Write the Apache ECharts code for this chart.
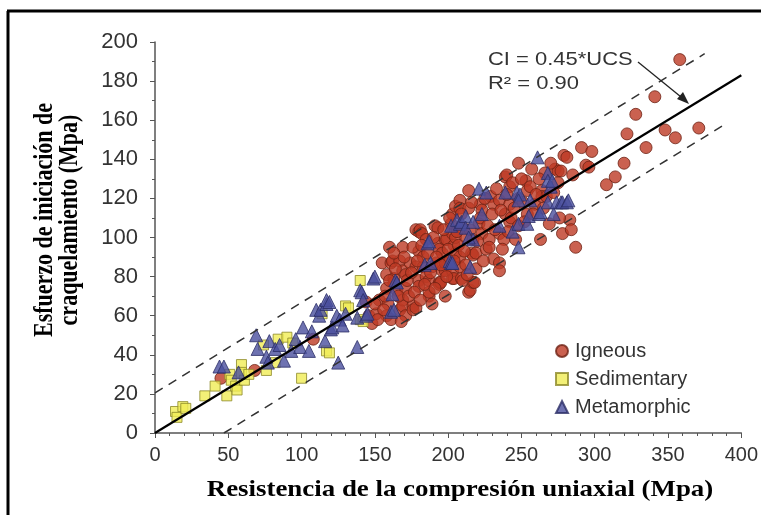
<!DOCTYPE html>
<html>
<head>
<meta charset="utf-8">
<script src="https://cdn.jsdelivr.net/npm/echarts@6/dist/echarts.min.js"></script>
<style>html,body{margin:0;padding:0;background:#fff;}#c{width:761px;height:515px;}</style>
</head>
<body>
<div id="c"></div>
<script>
var xTicks = [0, 50, 100, 150, 200, 250, 300, 350, 400];
var yTicks = [0, 20, 40, 60, 80, 100, 120, 140, 160, 180, 200];

var igneous = [[45,28],[68,32],[108,48],
[144,67],[146,60],[148,56],[151,61],[153,68],[155,87],[158,81],[158,74],[158,60],[159,66],[160,95],[161,58],[161,87],[162,88],[163,79],[163,77],[165,73],[167,88],[167,63],[169,95],[169,83],[169,68],[169,65],[171,81],[171,74],[171,60],[174,87],[176,65],[176,63],[178,104],[178,85],[178,64],[180,103],[180,93],[180,78],[180,75],[181,104],[182,102],[183,85],[183,90],[185,80],[185,99],[187,70],[187,78],[187,72],[189,85],[191,106],[192,87],[193,105],[193,97],[194,77],[194,94],[194,76],[195,77],[196,92],[196,83],[198,99],[198,83],[198,70],[198,87],[199,99],[201,88],[202,107],[203,102],[203,79],[203,83],[203,112],[204,96],[204,79],[205,116],[205,100],[205,92],[208,85],[208,119],[208,115],[208,90],[209,79],[210,78],[210,105],[212,100],[212,86],[214,124],[214,115],[214,72],[215,73],[216,92],[217,99],[217,91],[217,77],[218,77],[219,92],[221,107],[222,117],[223,114],[223,102],[226,94],[228,99],[228,95],[229,121],[231,117],[231,89],[235,119],[235,102],[235,87],[235,83],[238,99],[239,131],[239,112],[240,132],[242,126],[242,117],[242,108],[243,110],[248,138],[248,120],[248,106],[253,129],[254,124],[254,112],[259,117],[263,99],[264,124],[264,121],[266,133],[267,121],[269,107],[272,123],[273,135],[275,134],[277,134],[278,102],[279,142],[281,141],[283,109],[284,104],[285,132],[287,95],[291,146],[294,137],[296,136],[298,144],[308,127],[314,131],[320,138],[322,153],[328,163],[335,146],[341,172],[348,155],[355,151],[358,191],[371,156],
[150,66],[152,58],[156,63],[157,70],[160,78],[163,92],[164,84],[166,70],[168,57],[170,90],[172,78],[173,70],[175,82],[176,95],[177,72],[179,88],[181,68],[182,96],[184,76],[186,92],[188,82],[189,66],[190,100],[191,74],[192,90],[195,86],[197,104],[199,80],[200,94],[201,110],[204,88],[206,103],[207,96],[209,112],[211,93],[213,81],[215,104],[216,118],[219,84],[220,98],[222,110],[224,88],[225,120],[227,106],[230,112],[232,104],[233,125],[236,114],[237,94],[240,122],[241,103],[244,128],[245,115],[246,99],[250,130],[251,118],[252,108],[256,126],[257,135],[258,112],[260,122],[262,130],[265,115],[270,138],[275,128],[276,110]];

var sedimentary = [[14,11],[15,8],[19,13.5],[21,12.6],[34,19],[41,24],[49,19],[51,30],[52,27],[55,24],[56,22],[59,35],[59,31],[61,27],[64,30],[74,45],[76,32],[82,36],[84,48],[90,49],[94,46],[100,28],[114,61],[117,42],[119,41],[130,65],[132,64],[140,78],[140,58],[142,57]];

var metamorphic = [[44,34],[47,34],[57,31],[69,50],[70,43],[76,39],[77,36],[78,47],[82,43],[85,45],[88,37],[93,42],[96,48],[99,44],[101,54],[105,42],[107,52],[110,63],[112,60],[113,63],[116,47],[117,66],[117,68],[119,67],[120,53],[121,54],[124,60],[125,36],[126,58],[128,55],[130,61],[138,44],[138,59],[140,73],[141,72],[142,68],[144,60],[145,61],[149,79],[150,80],[161,62],[162,71],[163,63],[164,78],[165,77],[184,86],[186,97],[187,98],[188,87],[201,88],[202,87],[202,106],[203,87],[206,109],[208,107],[209,108],[212,111],[212,105],[215,85],[217,108],[217,99],[214,100],[221,125],[223,112],[226,123],[235,106],[239,123],[244,103],[247,123],[249,122],[248,119],[248,107],[248,95],[254,107],[255,111],[256,119],[261,141],[262,112],[263,113],[268,133],[268,129],[268,118],[270,126],[271,129],[272,112],[274,118],[277,118],[278,118],[281,118],[282,119]];

var fitLine = [[0,0],[400,183]];
var upperBound = [[0,20.5],[375,194]];
var lowerBound = [[47,0],[388,157.5]];

var chart = echarts.init(document.getElementById('c'), null, {renderer:'canvas'});
var sans = '"Liberation Sans", Arial, sans-serif';
var serif = '"Liberation Serif", "Times New Roman", serif';
chart.setOption({
  animation: false,
  backgroundColor: '#fff',
  grid: {left:155, right:18, top:42, bottom:82},
  xAxis: {
    type:'value', min:0, max:400, interval:50,
    axisLine:{show:true, onZero:false, lineStyle:{color:'#555', width:1.5}},
    axisTick:{show:true, length:5, lineStyle:{color:'#555'}},
    minorTick:{show:true, splitNumber:5, length:3, lineStyle:{color:'#555'}},
    splitLine:{show:false},
    axisLabel:{fontFamily:sans, fontSize:20, color:'#333', margin:12,
      formatter:function(v){return xTicks.indexOf(v)>=0 ? String(v) : '';}}
  },
  yAxis: {
    type:'value', min:0, max:200, interval:20,
    axisLine:{show:true, onZero:false, lineStyle:{color:'#555', width:1.5}},
    axisTick:{show:true, length:5, lineStyle:{color:'#555'}},
    minorTick:{show:true, splitNumber:2, length:3, lineStyle:{color:'#555'}},
    splitLine:{show:false},
    axisLabel:{fontFamily:sans, fontSize:22, color:'#333', margin:17,
      formatter:function(v){return yTicks.indexOf(v)>=0 ? String(v) : '';}}
  },
  legend: {
    orient:'vertical', left:550, top:336, itemGap:8, itemWidth:12, itemHeight:12,
    data:['Igneous','Sedimentary','Metamorphic'],
    textStyle:{fontFamily:sans, fontSize:20, color:'#333', padding:[0,0,0,2]}
  },
  series: [
    {name:'Igneous', type:'scatter', data:igneous, symbol:'circle', symbolSize:12, z:3,
      itemStyle:{color:'#bd3a24', borderColor:'#6e2214', borderWidth:1}},
    {name:'Sedimentary', type:'scatter', data:sedimentary, symbol:'rect', symbolSize:10, z:4,
      itemStyle:{color:'#f0ec55', borderColor:'#8c8828', borderWidth:1}},
    {name:'Metamorphic', type:'scatter', data:metamorphic, symbol:'triangle', symbolSize:13, z:5,
      itemStyle:{color:'#4a4f9e', borderColor:'#2c2e66', borderWidth:1}},
    {name:'fit', type:'line', data:fitLine, symbol:'none', z:10,
      lineStyle:{color:'#000', width:2.2}},
    {name:'upper', type:'line', data:upperBound, symbol:'none', z:10,
      lineStyle:{color:'#333', width:1.5, type:[9,7]}},
    {name:'lower', type:'line', data:lowerBound, symbol:'none', z:10,
      lineStyle:{color:'#333', width:1.5, type:[9,7]}}
  ],
  graphic: [
    {type:'line', shape:{x1:8, y1:11, x2:8, y2:515}, style:{stroke:'#000', lineWidth:3}},
    {type:'line', shape:{x1:7, y1:11, x2:761, y2:11}, style:{stroke:'#000', lineWidth:3}},
    {type:'text', x:58, y:220, rotation:Math.PI/2, scaleY:1.2,
      style:{text:'Esfuerzo de iniciación de\ncraquelamiento (Mpa)', font:'bold 22px '+serif, fill:'#000',
        textAlign:'center', textVerticalAlign:'middle', lineHeight:21}},
    {type:'text', x:460, y:490, scaleX:1.12,
      style:{text:'Resistencia de la compresión uniaxial (Mpa)', font:'bold 24px '+serif, fill:'#000',
        textAlign:'center', textVerticalAlign:'middle'}},
    {type:'text', x:488, y:60, scaleX:1.22,
      style:{text:'CI = 0.45*UCS', font:'18px '+sans, fill:'#333', textAlign:'left', textVerticalAlign:'middle'}},
    {type:'text', x:488, y:84, scaleX:1.22,
      style:{text:'R² = 0.90', font:'18px '+sans, fill:'#333', textAlign:'left', textVerticalAlign:'middle'}},
    {type:'line', shape:{x1:638, y1:62, x2:686, y2:101}, style:{stroke:'#222', lineWidth:1.3}, z:20},
    {type:'polygon', shape:{points:[[689,104],[677,99],[683,92]]}, style:{fill:'#222'}, z:20}
  ]
});
</script>
</body>
</html>
